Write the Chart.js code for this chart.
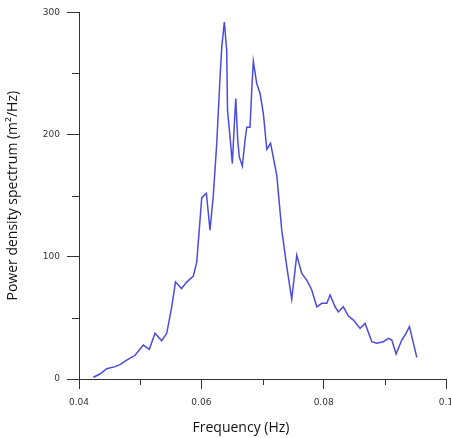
<!DOCTYPE html>
<html>
<head>
<meta charset="utf-8">
<script src="https://cdn.jsdelivr.net/npm/chart.js@4.4.1/dist/chart.umd.min.js"></script>
<style>
  html, body { margin: 0; padding: 0; background: #fff; }
  #wrap { width: 451px; height: 438px; }
</style>
</head>
<body>
<div id="wrap"><canvas id="myChart"></canvas></div>
<script>
// frequency (Hz) and power density values
const freq = [
  0.04234, 0.04343, 0.04453, 0.04589, 0.04670, 0.04780, 0.04916, 0.04986, 0.05052, 0.05150,
  0.05243, 0.05352, 0.05434, 0.05516, 0.05578, 0.05676, 0.05761, 0.05869, 0.05925, 0.06007,
  0.06082, 0.06142, 0.06196, 0.06252, 0.06306, 0.06334, 0.06376, 0.06415, 0.06428, 0.06469,
  0.06507, 0.06540, 0.06563, 0.06595, 0.06621, 0.06670, 0.06715, 0.06742, 0.06796, 0.06824,
  0.06850, 0.06906, 0.06960, 0.07014, 0.07070, 0.07132, 0.07233, 0.07315, 0.07397, 0.07478,
  0.07560, 0.07642, 0.07724, 0.07805, 0.07887, 0.07969, 0.08051, 0.08105, 0.08186, 0.08240,
  0.08322, 0.08404, 0.08486, 0.08595, 0.08677, 0.08787, 0.08868, 0.08976, 0.09058, 0.09114,
  0.09184, 0.09277, 0.09331, 0.09402, 0.09523
];
const psd = [
  1.4, 4.1, 8.4, 10.1, 11.7, 15.5, 19.4, 23.7, 27.8, 24.3,
  37.4, 31.3, 37.4, 59.1, 79.5, 74.0, 79.3, 84.2, 95.6, 148.4,
  152.0, 121.8, 150.4, 192.7, 247.1, 271.6, 292.1, 268.9, 219.9, 198.1,
  176.3, 209.0, 229.5, 195.4, 181.7, 174.1, 195.4, 206.0, 206.0, 236.2,
  260.0, 241.7, 233.8, 217.2, 188.0, 192.9, 166.8, 121.8, 91.8, 65.4,
  101.4, 86.4, 80.9, 72.8, 59.1, 61.9, 61.9, 68.7, 59.1, 55.0,
  59.1, 51.5, 48.2, 41.4, 45.5, 30.5, 29.2, 30.5, 33.3, 31.9,
  20.4, 31.9, 36.0, 42.8, 17.7
];

const xMinor = [0.05, 0.07, 0.09];
const yMinor = [50, 150, 250];

const xTitle = 'Frequency (Hz)';
const yTitle = 'Power density spectrum (m\u00b2/Hz)';

// short minor ticks and the two axis titles
const extras = {
  id: 'extras',
  afterDraw(chart) {
    const { ctx, chartArea, scales: { x, y } } = chart;
    ctx.save();
    ctx.strokeStyle = '#333';
    ctx.lineWidth = 1;
    ctx.beginPath();
    yMinor.forEach(v => {
      const py = Math.round(y.getPixelForValue(v)) + 0.5;
      ctx.moveTo(chartArea.left - 7, py);
      ctx.lineTo(chartArea.left, py);
    });
    xMinor.forEach(v => {
      const px = Math.round(x.getPixelForValue(v)) + 0.5;
      ctx.moveTo(px, chartArea.bottom);
      ctx.lineTo(px, chartArea.bottom + 6);
    });
    ctx.stroke();

    ctx.fillStyle = '#111';
    ctx.font = '14px "Open Sans"';
    ctx.textAlign = 'center';
    ctx.textBaseline = 'middle';
    ctx.fillText(xTitle, chartArea.left + 162, 428);
    ctx.translate(13, (chartArea.top + chartArea.bottom) / 2);
    ctx.rotate(-Math.PI / 2);
    ctx.fillText(yTitle, 0, 0);
    ctx.restore();
  }
};

const ctx = document.getElementById('myChart');

new Chart(ctx, {
  type: 'scatter',
  data: {
    datasets: [{
      data: freq.map((f, i) => ({ x: f, y: psd[i] })),
      showLine: true,
      borderColor: '#4b4bdf',
      borderWidth: 1.5,
      pointRadius: 0,
      tension: 0,
      fill: false,
    }]
  },
  options: {
    responsive: true,
    maintainAspectRatio: false,
    animation: false,
    layout: { padding: { top: 12, right: 5, left: 0, bottom: 0 } },
    plugins: {
      legend: { display: false },
      tooltip: { enabled: false },
    },
    scales: {
      x: {
        type: 'linear',
        min: 0.04,
        max: 0.1,
        afterFit: (scale) => {
          scale.height = 59;
          scale.paddingRight = 0;
          scale.paddingLeft = 0;
        },
        border: { color: '#333', width: 1 },
        grid: { drawOnChartArea: false, tickLength: 10, tickColor: '#333' },
        ticks: {
          stepSize: 0.02,
          maxRotation: 0,
          padding: 8,
          color: '#333',
          font: { family: 'DejaVu Sans', size: 9 },
          callback: (v) => String(+v.toFixed(2)),
        },
      },
      y: {
        min: 0,
        max: 300,
        afterFit: (scale) => { scale.width = 79; },
        border: { color: '#333', width: 1 },
        grid: { drawOnChartArea: false, tickLength: 12, tickColor: '#333' },
        ticks: {
          stepSize: 100,
          padding: 7,
          color: '#333',
          font: { family: 'DejaVu Sans', size: 9 },
        },
      },
    },
  },
  plugins: [extras],
});
</script>
</body>
</html>
